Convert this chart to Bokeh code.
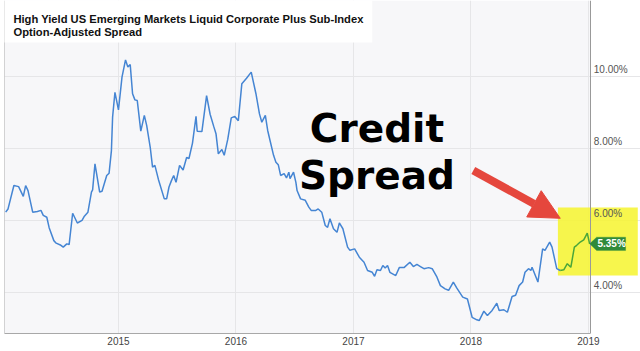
from bokeh.plotting import figure
from bokeh.models import (FixedTicker, PrintfTickFormatter, CustomJSTickFormatter, BoxAnnotation,
                          Label, Arrow, NormalHead, PolyAnnotation, Range1d, LinearAxis)
from bokeh.embed import file_html
from bokeh.resources import INLINE

# ---- data (decimal years, spread in %) ----
years = [2014.04, 2014.06, 2014.11, 2014.15, 2014.19, 2014.21, 2014.23, 2014.27, 2014.31, 2014.34,
         2014.36, 2014.39, 2014.41, 2014.45, 2014.47, 2014.51, 2014.53, 2014.56, 2014.58, 2014.61,
         2014.65, 2014.69, 2014.71, 2014.74, 2014.77, 2014.78, 2014.80, 2014.84, 2014.86, 2014.90,
         2014.92, 2014.94, 2014.95, 2014.97, 2015.00, 2015.03, 2015.06, 2015.08, 2015.10, 2015.12,
         2015.14, 2015.16, 2015.19, 2015.22, 2015.24, 2015.27, 2015.29, 2015.31, 2015.34, 2015.39,
         2015.41, 2015.43, 2015.45, 2015.47, 2015.49, 2015.52, 2015.55, 2015.58, 2015.60, 2015.63,
         2015.66, 2015.67, 2015.71, 2015.75, 2015.78, 2015.81, 2015.83, 2015.85, 2015.88, 2015.90,
         2015.93, 2015.96, 2015.99, 2016.02, 2016.05, 2016.09, 2016.13, 2016.17, 2016.20, 2016.22,
         2016.25, 2016.27, 2016.29, 2016.32, 2016.34, 2016.36, 2016.38, 2016.41, 2016.43, 2016.45,
         2016.46, 2016.49, 2016.51, 2016.52, 2016.55, 2016.59, 2016.62, 2016.64, 2016.68, 2016.70,
         2016.73, 2016.76, 2016.78, 2016.80, 2016.83, 2016.86, 2016.88, 2016.91, 2016.95, 2016.97,
         2017.01, 2017.05, 2017.09, 2017.12, 2017.16, 2017.18, 2017.20, 2017.23, 2017.25, 2017.27,
         2017.29, 2017.31, 2017.36, 2017.39, 2017.43, 2017.48, 2017.51, 2017.54, 2017.57, 2017.60,
         2017.64, 2017.67, 2017.71, 2017.74, 2017.78, 2017.81, 2017.85, 2017.88, 2017.93, 2017.97,
         2018.01, 2018.05, 2018.07, 2018.11, 2018.14, 2018.18, 2018.22, 2018.24, 2018.28, 2018.31,
         2018.35, 2018.38, 2018.41, 2018.44, 2018.46, 2018.49, 2018.51, 2018.52, 2018.57, 2018.61,
         2018.63, 2018.67, 2018.69, 2018.73, 2018.76, 2018.79, 2018.82, 2018.85, 2018.88, 2018.90,
         2018.93, 2018.96, 2018.99, 2019.01]
spread = [6.23, 6.32, 6.97, 6.94, 6.67, 6.97, 6.83, 6.23, 6.25, 6.28,
          6.14, 6.09, 5.80, 5.44, 5.37, 5.31, 5.26, 5.35, 5.33, 6.20,
          5.93, 6.00, 6.12, 6.23, 6.79, 6.85, 7.57, 6.79, 6.81, 7.25,
          7.31, 7.94, 8.87, 9.56, 9.07, 9.98, 10.46, 10.26, 10.33, 9.52,
          9.35, 9.33, 8.48, 8.92, 8.64, 8.04, 7.48, 7.53, 7.14, 6.60,
          6.60, 6.93, 7.10, 7.25, 7.06, 7.53, 7.40, 7.75, 7.72, 8.15,
          8.89, 8.48, 8.47, 9.47, 8.95, 8.62, 8.41, 7.85, 7.97, 7.81,
          8.25, 8.85, 8.89, 8.77, 9.80, 9.95, 10.12, 9.52, 8.96, 8.73,
          8.92, 8.50, 8.22, 7.81, 7.62, 7.55, 7.25, 7.30, 7.18, 7.34,
          7.16, 7.34, 7.06, 6.83, 6.60, 6.56, 6.37, 6.28, 6.28, 6.32,
          6.23, 5.86, 5.81, 6.05, 5.77, 5.67, 5.93, 5.77, 5.26, 5.17,
          5.21, 4.98, 4.84, 4.61, 4.56, 4.45, 4.63, 4.61, 4.75, 4.68,
          4.75, 4.56, 4.47, 4.69, 4.69, 4.84, 4.72, 4.78, 4.72, 4.66,
          4.69, 4.66, 4.43, 4.19, 4.10, 4.06, 4.29, 4.12, 3.87, 3.82,
          3.31, 3.24, 3.22, 3.48, 3.36, 3.50, 3.70, 3.50, 3.52, 3.45,
          3.89, 3.92, 4.19, 4.29, 4.56, 4.66, 4.61, 4.70, 4.29, 5.21,
          5.17, 5.40, 5.26, 4.66, 4.61, 4.63, 4.80, 4.70, 5.26, 5.31,
          5.40, 5.46, 5.65, 5.35]
highlight_start = 2018.76
x_ticks = [2015, 2016, 2017, 2018, 2019]
y_ticks = [4, 6, 8, 10]
title_lines = ["High Yield US Emerging Markets Liquid Corporate Plus Sub-Index",
               "Option-Adjusted Spread"]
callout_lines = ["Credit", "Spread"]
last_label = "5.35%"

X_START, X_AXIS_END, X_END = 2014.03, 2019.02, 2019.443
LABEL_LIFT = 0.19   # y-labels sit just above their gridline

BLUE = "#4585d3"
GREEN = "#4aa63a"
TAG = "#2f8a3a"
RED = "#e5473d"
YELLOW = "#f6f52e"

p = figure(width=640, height=351, output_backend="svg", toolbar_location=None,
           x_range=Range1d(X_START, X_END), y_range=Range1d(2.86, 12.11),
           y_axis_location=None,
           min_border_left=4, min_border_right=0, min_border_top=0, min_border_bottom=18)

p.background_fill_color = "white"
p.border_fill_color = "white"
p.outline_line_color = None

# plotting area background (up to the right axis)
p.add_layout(BoxAnnotation(left=X_START, right=X_AXIS_END, fill_color="#f7f7f9",
                           fill_alpha=1, line_color=None, level="image"))

p.xgrid.ticker = FixedTicker(ticks=x_ticks)
p.ygrid.ticker = FixedTicker(ticks=y_ticks)
p.xgrid.grid_line_color = "#e6e6e8"
p.ygrid.grid_line_color = "#e6e6e8"
p.ygrid.bounds = (X_START, X_AXIS_END)

xa = p.xaxis[0]
xa.ticker = FixedTicker(ticks=x_ticks)
xa.formatter = PrintfTickFormatter(format="%d")
xa.bounds = (X_START, X_AXIS_END)
xa.major_tick_line_color = None
xa.minor_tick_line_color = None
xa.major_tick_out = 0
xa.major_tick_in = 0
xa.axis_line_color = "#a8a8a8"
xa.major_label_text_font = "Liberation Sans"
xa.major_label_text_font_size = "10px"
xa.major_label_text_color = "#444444"
xa.major_label_standoff = 3

# right value axis, drawn at the right edge of the plotting area
ya = LinearAxis(fixed_location=X_AXIS_END,
                ticker=FixedTicker(ticks=[t + LABEL_LIFT for t in y_ticks]),
                formatter=CustomJSTickFormatter(code="return Math.round(tick).toFixed(2) + '%';"))
ya.major_tick_line_color = None
ya.minor_tick_line_color = None
ya.major_tick_out = 0
ya.major_tick_in = 0
ya.axis_line_color = "#999999"
ya.major_label_text_font = "Liberation Sans"
ya.major_label_text_font_size = "10px"
ya.major_label_text_color = "#555555"
ya.major_label_standoff = 3
p.add_layout(ya, "right")

# left border
lb = LinearAxis(fixed_location=X_START, ticker=FixedTicker(ticks=[]))
lb.major_tick_line_color = None
lb.minor_tick_line_color = None
lb.axis_line_color = "#a8a8a8"
p.add_layout(lb, "left")

# yellow highlight
p.add_layout(BoxAnnotation(left=2018.74, right=2019.42, top=6.36, bottom=4.47,
                           fill_color=YELLOW, fill_alpha=0.85, line_color=None,
                           level="underlay"))

bx = [t for t in years if t <= highlight_start]
by = [v for t, v in zip(years, spread) if t <= highlight_start]
gx = [t for t in years if t >= highlight_start]
gy = [v for t, v in zip(years, spread) if t >= highlight_start]
p.line(bx, by, line_color=BLUE, line_width=1.5)
p.line(gx, gy, line_color=GREEN, line_width=1.5)

# last value tag
lx, ly = years[-1], spread[-1]
dx = 1 / 117.5
dy = 1 / 36.0
p.add_layout(PolyAnnotation(xs=[lx, lx + 7 * dx, lx + 36 * dx, lx + 36 * dx, lx + 7 * dx],
                            ys=[ly, ly + 6.7 * dy, ly + 6.7 * dy, ly - 6.7 * dy, ly - 6.7 * dy],
                            fill_color=TAG, fill_alpha=1, line_color=TAG))
p.add_layout(Label(x=lx, y=ly, x_offset=22, text=last_label, text_align="center",
                   text_baseline="middle", text_color="white", text_font="Liberation Sans",
                   text_font_style="bold", text_font_size="10px"))

# title box
p.add_layout(BoxAnnotation(left=2013.8, right=2017.16, top=12.6, bottom=10.94,
                           fill_color="white", fill_alpha=1, line_color=None))
p.add_layout(Label(x=2014.106, y=11.583, text=title_lines[0], text_align="left",
                   text_baseline="alphabetic", text_color="#111111", text_font="Liberation Sans",
                   text_font_style="bold", text_font_size="11.2px"))
p.add_layout(Label(x=2014.106, y=11.222, text=title_lines[1], text_align="left",
                   text_baseline="alphabetic", text_color="#111111", text_font="Liberation Sans",
                   text_font_style="bold", text_font_size="11.2px"))

# callout
p.add_layout(Label(x=2017.20, y=8.56, text=callout_lines[0], text_align="center",
                   text_baseline="alphabetic", text_color="black", text_font="DejaVu Sans",
                   text_font_style="bold", text_font_size="39px"))
p.add_layout(Label(x=2017.20, y=7.25, text=callout_lines[1], text_align="center",
                   text_baseline="alphabetic", text_color="black", text_font="DejaVu Sans",
                   text_font_style="bold", text_font_size="39px"))
p.add_layout(Arrow(end=NormalHead(size=30, fill_color=RED, line_color=RED),
                   x_start=2018.02, y_start=7.39, x_end=2018.76, y_end=6.06,
                   line_color=RED, line_width=8))

open("out.html", "w").write(file_html(p, INLINE))
